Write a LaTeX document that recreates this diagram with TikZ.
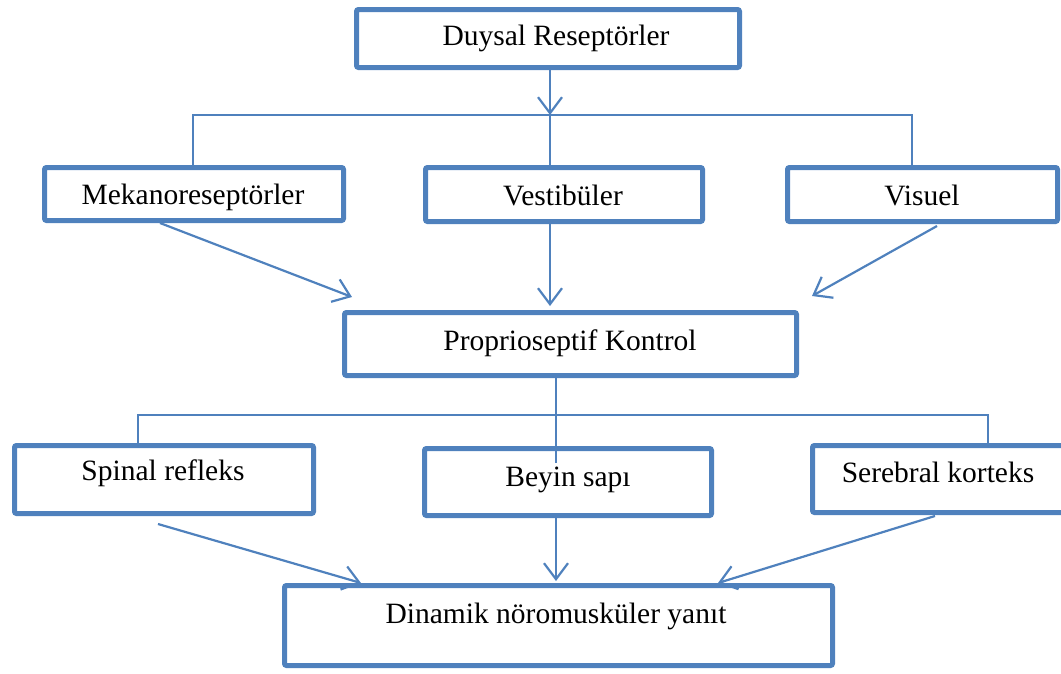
\documentclass[tikz,border=0pt]{standalone}
\usepackage{fontspec}
\setmainfont{Liberation Serif}
\usetikzlibrary{
	arrows.meta
}
\definecolor{boxblue}{RGB}{79,129,189}

\begin{document}
\begin{tikzpicture}[x=1pt, y=-1pt,
    kutu/.style={draw=boxblue, line width=5pt, rounded corners=2pt, inner sep=0pt},
    yazi/.style={anchor=base, inner sep=0pt, font=\fontsize{29.5}{33}\selectfont},
    ince/.style={draw=boxblue, line width=1.3pt},
    ok/.style={draw=boxblue, line width=2.2pt, -{Straight Barb[length=16pt, width=24pt, line width=2.2pt]}}]
    % Definitions
    \useasboundingbox (0,0) rectangle (1061,673);
    \coordinate (dal1) at (550,115);
    \coordinate (dal1sol) at (193,115);
    \coordinate (dal1sag) at (912,115);
    \coordinate (dal2) at (556,415);
    \coordinate (dal2sol) at (138,415);
    \coordinate (dal2sag) at (988,415);
    \coordinate (dal2son) at (556,463);
    %%%
    %%% Boxes
    %%%
    \node[kutu, minimum width=383pt, minimum height=58pt] (duysal) at (548,38.5) {};
    \node[kutu, minimum width=299pt, minimum height=53pt] (mekano) at (194,194) {};
    \node[kutu, minimum width=277pt, minimum height=54pt] (vestib) at (564,194.5) {};
    \node[kutu, minimum width=270pt, minimum height=54pt] (visuel) at (922.5,194.5) {};
    \node[kutu, minimum width=452pt, minimum height=63pt] (proprio) at (570.5,344) {};
    \node[kutu, minimum width=299pt, minimum height=68pt] (spinal) at (164,479.5) {};
    \node[kutu, minimum width=287pt, minimum height=67pt] (beyin) at (568,482) {};
    \node[kutu, minimum width=257pt, minimum height=67pt] (serebral) at (941,479) {};
    \node[kutu, minimum width=548pt, minimum height=80pt] (dinamik) at (558.5,625.5) {};
    % Texts
    \node[yazi] (duysal-t) at (556,45) {Duysal Reseptörler};
    \node[yazi] (mekano-t) at (193,204) {Mekanoreseptörler};
    \node[yazi] (vestib-t) at (563,205) {Vestibüler};
    \node[yazi] (visuel-t) at (922,205) {Visuel};
    \node[yazi] (proprio-t) at (570,350) {Proprioseptif Kontrol};
    \node[yazi] (spinal-t) at (163,480) {Spinal refleks};
    \node[yazi] (beyin-t) at (568,486) {Beyin sapı};
    \node[yazi] (serebral-t) at (938,482) {Serebral korteks};
    \node[yazi] (dinamik-t) at (556,623) {Dinamik nöromusküler yanıt};
    %%%
    %%% Upper branch
    %%%
    \draw[ok] (duysal.south -| dal1) -- (dal1);
    \draw[ince] (dal1sol |- mekano.north) -- (dal1sol) -- (dal1sag) -- (dal1sag |- visuel.north);
    \draw[ince] (dal1) -- (dal1 |- vestib.north);
    % Arrows to the control box
    \draw[ok] (160,223) -- (352,297);
    \draw[ok] (vestib.south -| dal1) -- (550,306);
    \draw[ok] (937,226) -- (812,296);
    %%%
    %%% Lower branch
    %%%
    \draw[ince] (proprio.south -| dal2) -- (dal2);
    \draw[ince] (dal2sol |- spinal.north) -- (dal2sol) -- (dal2sag) -- (dal2sag |- serebral.north);
    \draw[ince] (dal2) -- (dal2son);
    % Arrows to the response box
    \draw[ok] (158,524) -- (361,583);
    \draw[ok] (beyin.south -| dal2) -- (556,581);
    \draw[ok] (935,516) -- (718,583);
\end{tikzpicture}
\end{document}
